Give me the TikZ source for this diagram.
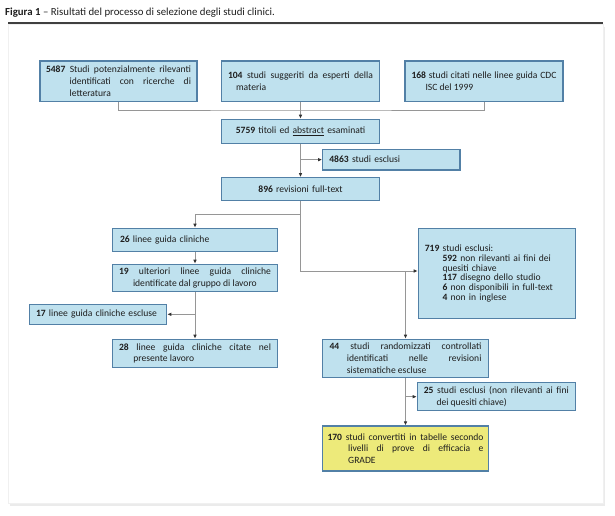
\documentclass[tikz,border=0pt]{standalone}
\usepackage{fontspec}
\setmainfont{Carlito}
\usetikzlibrary{arrows.meta}
\definecolor{boxc}{RGB}{191,225,238}
\definecolor{bordc}{RGB}{82,128,166}
\definecolor{yelc}{RGB}{237,234,122}
\definecolor{linec}{RGB}{150,150,150}
\definecolor{tipc}{RGB}{50,50,50}
\definecolor{txtc}{RGB}{30,30,30}
\newcommand\hn[3]{\hangindent=#1\hangafter=1\noindent\textbf{#2}\ #3\par}
\tolerance=10000
\hbadness=10000
\emergencystretch=2em
\begin{document}
\begin{tikzpicture}[x=1pt,y=-1pt,
 box/.style={draw=bordc, fill=boxc, line width=1.2pt, inner sep=0pt, text=txtc,
   font=\fontsize{9.6}{11.8}\selectfont},
 jbox/.style={box, align=justify},
 lbox/.style={box, align=left},
 cbox/.style={box, align=center},
 conn/.style={draw=linec, line width=0.9pt},
 arr/.style={conn, -{Latex[length=4pt,width=3.6pt,color=tipc]}},
]
\useasboundingbox (0,0) rectangle (615,516);
% frame
\fill[black!8] (10,27) rectangle (605,506);
\draw[fill=white, draw=black!6, line width=0.6pt] (8,24) rectangle (603,503);
\draw[line width=1.3pt, black!75] (8,23) -- (603,23);
\node[anchor=base west, inner sep=0pt, text=txtc, font=\fontsize{10.8}{12}\selectfont] (title) at (5,15.5)
  {\textbf{Figura 1} – Risultati del processo di selezione degli studi clinici.};

% boxes
\node[jbox, minimum width=157pt, minimum height=40.7pt, text width=145pt] (A) at (118.5,81.35)
  {\hn{23.6pt}{5487}{Studi potenzialmente rilevanti\linebreak identificati con ricerche di\linebreak letteratura}};
\node[jbox, minimum width=158.3pt, minimum height=40.7pt, text width=145pt] (B) at (300.5,81.35)
  {\hn{8pt}{104}{studi suggeriti da esperti della\linebreak materia}};
\node[jbox, minimum width=158pt, minimum height=40.7pt, text width=145pt] (C) at (484,81.35)
  {\hn{14pt}{168}{studi citati nelle linee guida CDC\linebreak ISC del 1999}};
\node[cbox, minimum width=157.3pt, minimum height=24pt, text width=144pt] (D) at (300.5,131.3)
  {\textbf{5759} titoli ed \underline{abstract} esaminati};
\node[lbox, minimum width=137.3pt, minimum height=20.7pt, text width=124pt] (E) at (391.35,159.65)
  {\textbf{4863} studi esclusi};
\node[cbox, minimum width=157.3pt, minimum height=23pt, text width=144pt] (F) at (300.5,189.2)
  {\textbf{896} revisioni full-text};
\node[lbox, minimum width=165.4pt, minimum height=23.4pt, text width=150pt] (G) at (195,240)
  {\textbf{26} linee guida cliniche};
\node[jbox, minimum width=165.4pt, minimum height=27.4pt, text width=152pt] (H) at (195,278)
  {\hn{14pt}{19}{ulteriori linee guida cliniche\linebreak identificate dal gruppo di lavoro}};
\node[lbox, minimum width=137.4pt, minimum height=20pt, text width=124pt] (J) at (98,314.3)
  {\textbf{17} linee guida cliniche escluse};
\node[jbox, minimum width=165.4pt, minimum height=28.4pt, text width=152pt] (I) at (195,353.5)
  {\hn{14.3pt}{28}{linee guida cliniche citate nel\linebreak presente lavoro}};
\node[lbox, minimum width=157pt, minimum height=90.4pt, text width=144pt,
   font=\fontsize{9.6}{9.8}\selectfont] (K) at (496.8,273.5)
  {\textbf{719} studi esclusi:\\
   \hspace*{17.7pt}\textbf{592} non rilevanti ai fini dei\\
   \hspace*{17.7pt}quesiti chiave\\
   \hspace*{17.7pt}\textbf{117} disegno dello studio\\
   \hspace*{17.7pt}\textbf{6} non disponibili in full-text\\
   \hspace*{17.7pt}\textbf{4} non in inglese\\[7pt]};
\node[jbox, minimum width=165.6pt, minimum height=38pt, text width=152pt] (L) at (405.5,358.3)
  {\hn{17.4pt}{44}{studi randomizzati controllati\linebreak identificati nelle revisioni\linebreak sistematiche escluse}};
\node[jbox, minimum width=158pt, minimum height=28pt, text width=145pt] (N) at (496.3,396.7)
  {\hn{12.7pt}{25}{studi esclusi (non rilevanti ai fini\linebreak dei quesiti chiave)}};
\node[jbox, fill=yelc, minimum width=165.6pt, minimum height=45pt, text width=156pt] (M) at (405.5,448.5)
  {\hn{20.7pt}{170}{studi convertiti in tabelle secondo\linebreak livelli di prove di efficacia e\linebreak GRADE}};

% connectors
\coordinate (jt) at (300.5,110);
\draw[conn] (A.south) |- (jt) -| (C.south);
\draw[arr] (B.south) -- (D.north);
\draw[arr] (D.south) -- (F.north);
\coordinate (je) at (300.5,159.65);
\draw[arr] (je) -- (E.west);
\coordinate (jg) at (300.5,214);
\draw[arr] (F.south) -- (jg) -| (G.north);
\coordinate (jk) at (300.5,271);
\draw[arr] (jg) -- (jk) -- (jk -| K.west);
\coordinate (jl) at (405.5,271);
\draw[arr] (jl) -- (L.north);
\draw[arr] (G.south) -- (H.north);
\draw[arr] (H.south) -- (I.north);
\coordinate (jj) at (195,314.3);
\draw[arr] (jj) -- (J.east);
\draw[arr] (L.south) -- (M.north);
\coordinate (jn) at (405.5,396.7);
\draw[arr] (jn) -- (N.west);
\end{tikzpicture}
\end{document}
